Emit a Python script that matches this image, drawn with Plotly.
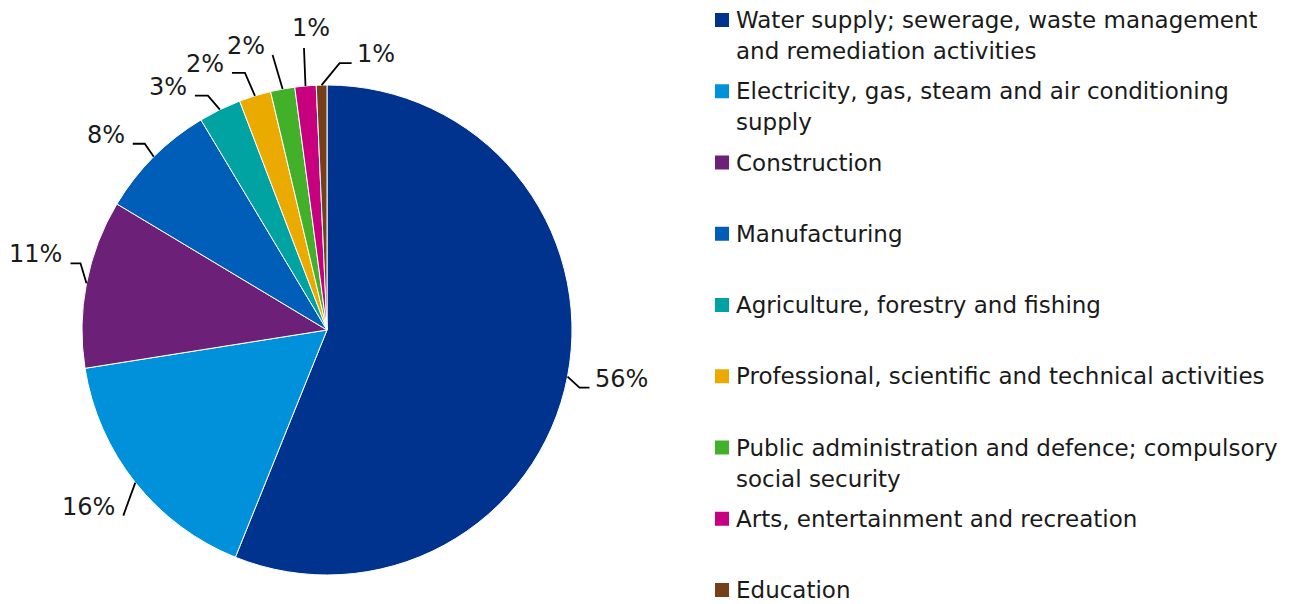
import math
import plotly.graph_objects as go

# Share of total by sector (percent)
sectors = [
    "Water supply; sewerage, waste management\nand remediation activities",
    "Electricity, gas, steam and air conditioning\nsupply",
    "Construction",
    "Manufacturing",
    "Agriculture, forestry and fishing",
    "Professional, scientific and technical activities",
    "Public administration and defence; compulsory\nsocial security",
    "Arts, entertainment and recreation",
    "Education",
]
shares = [56.1, 16.4, 11.1, 7.8, 2.8, 2.1, 1.6, 1.4, 0.7]
colors = ["#00338D", "#0091DA", "#6D2077", "#005EB8", "#00A3A1",
          "#EAAA00", "#43B02A", "#C6007E", "#753F19"]

W, H = 1290, 604
TEXT = "#1a1a1a"
FONT = "DejaVu Sans"

# pie placement in pixels
CX, CY, R = 327, 330, 245

# leader line styling per slice: elbow offset from rim (dx, dy), horizontal leg, label side
leaders = [
    (12, 11, 10, "right"),
    (-12, 33, 0, "left"),
    (-6, -20, -10, "left"),
    (-9, -13, -12, "left"),
    (-12, -14, -13, "left"),
    (-10, -23, -13, "left"),
    (-10, -34, 0, "left"),
    (-1.5, -38, 0, "top"),
    (18, -22, 12, "right"),
]

fig = go.Figure()
fig.add_trace(go.Pie(
    labels=[s.replace("\n", " ") for s in sectors],
    values=shares,
    marker=dict(colors=colors, line=dict(color="white", width=1)),
    sort=False,
    direction="clockwise",
    rotation=0,
    textinfo="none",
    hoverinfo="label+percent",
    showlegend=False,
    domain=dict(x=[(CX - R) / W, (CX + R) / W],
                y=[1 - (CY + R) / H, 1 - (CY - R) / H]),
))

shapes = []
annotations = []
total = sum(shares)
cum = 0.0
for val, (edx, edy, leg, side) in zip(shares, leaders):
    mid = (cum + val / 2) / total
    cum += val
    ang = 2 * math.pi * mid
    x0 = CX + R * math.sin(ang)
    y0 = CY - R * math.cos(ang)
    x1, y1 = x0 + edx, y0 + edy
    x2, y2 = x1 + leg, y1
    path = f"M{x0},{y0} L{x1},{y1}"
    if leg:
        path += f" L{x2},{y2}"
    shapes.append(dict(type="path", path=path, xref="x", yref="y",
                       line=dict(color="black", width=1.8)))
    label = f"{round(val / total * 100)}%"
    if side == "right":
        ann = dict(x=x2 + 3, y=y2 - 9, xanchor="left", yanchor="middle")
    elif side == "left":
        ann = dict(x=x2 - 6, y=y2 - 9, xanchor="right", yanchor="middle")
    else:
        ann = dict(x=x2 + 7, y=y2 - 4, xanchor="center", yanchor="bottom")
    ann.update(text=label, showarrow=False, xref="x", yref="y",
               font=dict(family=FONT, size=24, color=TEXT))
    annotations.append(ann)

# legend drawn as coloured squares plus text lines
LEG_X, LEG_Y0, LEG_STEP, LINE_STEP = 715, 20, 71.25, 31
for i, (name, col) in enumerate(zip(sectors, colors)):
    yc = LEG_Y0 + i * LEG_STEP
    shapes.append(dict(type="rect", xref="x", yref="y",
                       x0=LEG_X, x1=LEG_X + 14, y0=yc - 7, y1=yc + 7,
                       fillcolor=col, line=dict(width=0)))
    for j, line in enumerate(name.split("\n")):
        annotations.append(dict(
            x=LEG_X + 19, y=yc + j * LINE_STEP, xref="x", yref="y",
            xanchor="left", yanchor="middle", text=line, showarrow=False,
            font=dict(family=FONT, size=23, color=TEXT)))

fig.update_layout(
    width=W, height=H,
    margin=dict(l=0, r=0, t=0, b=0),
    paper_bgcolor="white", plot_bgcolor="rgba(0,0,0,0)",
    xaxis=dict(range=[0, W], visible=False, fixedrange=True, domain=[0, 1]),
    yaxis=dict(range=[H, 0], visible=False, fixedrange=True, domain=[0, 1]),
    shapes=shapes,
    annotations=annotations,
    showlegend=False,
)

fig.write_html("out.html")
